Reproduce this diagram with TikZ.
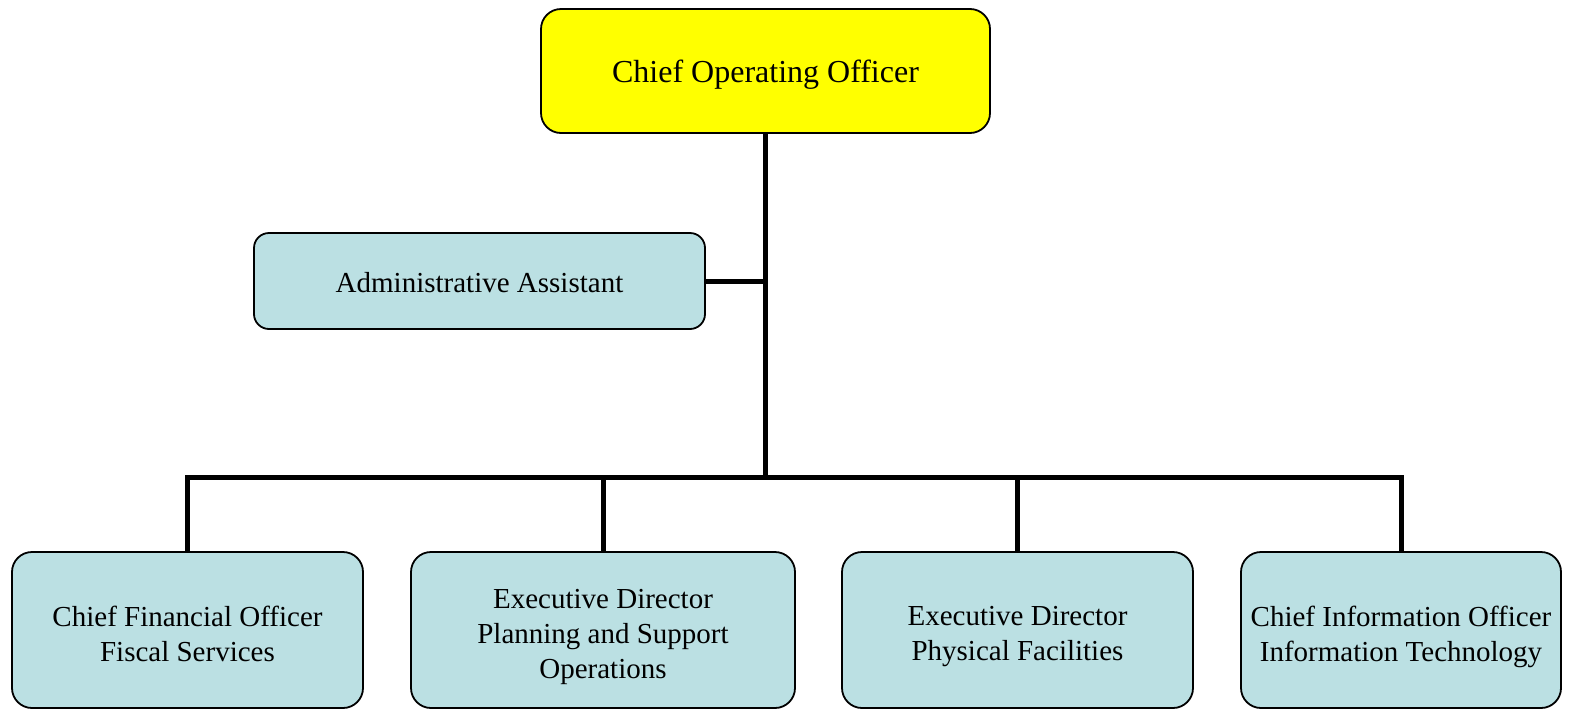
\documentclass[tikz,border=0pt]{standalone}
\usepackage{fontspec}
\setmainfont{Liberation Serif}
\definecolor{boxblue}{RGB}{187,224,227}
\definecolor{cooyellow}{RGB}{255,255,0}
\tikzset{
  orgbox/.style={draw=black, line width=1.8pt, rounded corners=20pt, fill=boxblue,
    inner sep=0pt},
  boxtext/.style={align=center, inner sep=0pt, font=\fontsize{29}{35}\selectfont},
  link/.style={draw=black, line width=5pt}
}
\begin{document}
\begin{tikzpicture}[x=1pt,y=-1pt]
\useasboundingbox (0,0) rectangle (1571,710);
\node[orgbox, fill=cooyellow, minimum width=449pt, minimum height=124pt,
  label={[boxtext, font=\fontsize{32}{38}\selectfont, yshift=-4pt]center:Chief Operating Officer}] (coo) at (765.5,71) {};
\node[orgbox, rounded corners=15pt, minimum width=451pt, minimum height=96pt,
  label={[boxtext, yshift=-2pt]center:Administrative Assistant}] (admin) at (479.5,281) {};
\node[orgbox, minimum width=351pt, minimum height=156pt,
  label={[boxtext, yshift=-4pt]center:{Chief Financial Officer\\Fiscal Services}}] (b1) at (187.5,630) {};
\node[orgbox, minimum width=384pt, minimum height=156pt,
  label={[boxtext, yshift=-7pt]center:{Executive Director\\Planning and Support\\Operations}}] (b2) at (603,630) {};
\node[orgbox, minimum width=351pt, minimum height=156pt,
  label={[boxtext, yshift=-7pt]center:{Executive Director\\Physical Facilities}}] (b3) at (1017.5,630) {};
\node[orgbox, minimum width=320pt, minimum height=156pt,
  label={[boxtext, yshift=-7pt]center:{Chief Information Officer\\Information Technology}}] (b4) at (1401,630) {};
\coordinate (bus) at (766,477);
\draw[link] (coo.south) -- (coo.south |- bus);
\draw[link] (admin.east) -- (admin.east -| coo.south);
\draw[link] (b1.north) |- (b4.north |- bus) -- (b4.north);
\draw[link] (b2.north) -- (b2.north |- bus);
\draw[link] (b3.north) -- (b3.north |- bus);
\end{tikzpicture}
\end{document}
